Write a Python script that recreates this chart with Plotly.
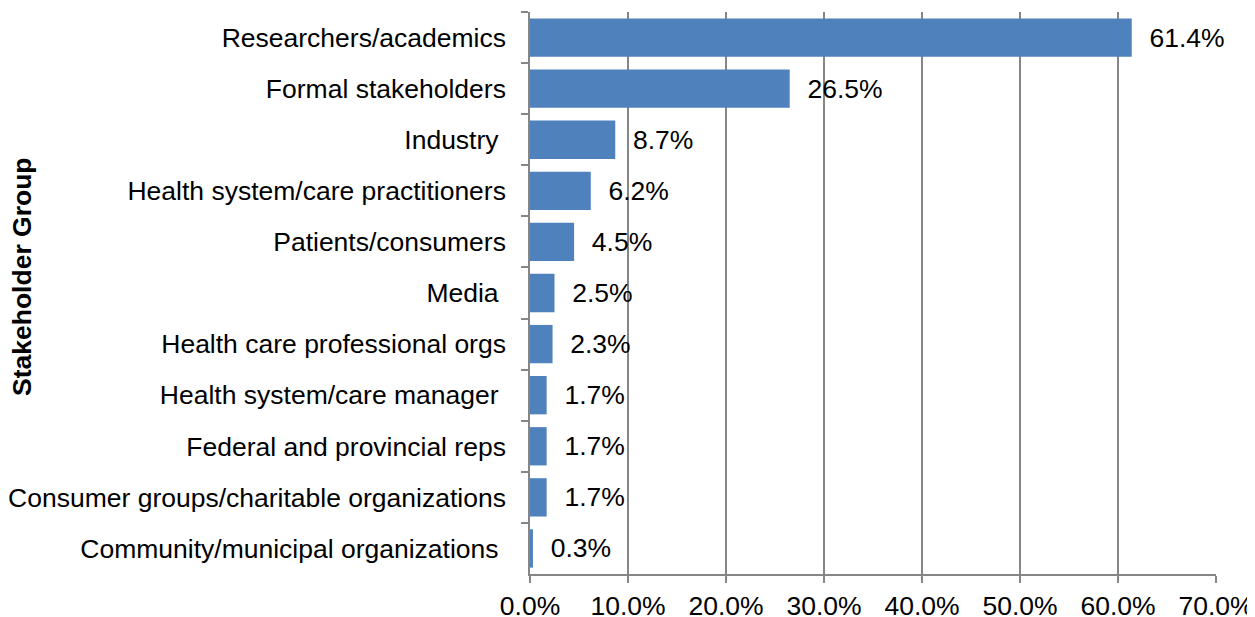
import plotly.graph_objects as go

categories = [
    "Researchers/academics",
    "Formal stakeholders",
    "Industry\u00a0",
    "Health system/care practitioners",
    "Patients/consumers",
    "Media\u00a0",
    "Health care professional orgs",
    "Health system/care manager\u00a0",
    "Federal and provincial reps",
    "Consumer groups/charitable organizations",
    "Community/municipal organizations\u00a0",
]
values = [61.4, 26.5, 8.7, 6.2, 4.5, 2.5, 2.3, 1.7, 1.7, 1.7, 0.3]
x_ticks = [0, 10, 20, 30, 40, 50, 60, 70]
x_tick_labels = ["0.0%", "10.0%", "20.0%", "30.0%", "40.0%", "50.0%", "60.0%", "70.0%"]

FONT = "Liberation Sans, Arial, sans-serif"
GRID = "#868686"
FS = 26.5

fig = go.Figure(
    go.Bar(
        x=values,
        y=categories,
        orientation="h",
        marker=dict(color="#4F81BD", line=dict(width=0)),
        texttemplate="\u00a0\u00a0%{x:.1f}%",
        textposition="outside",
        textfont=dict(family=FONT, size=FS, color="#000000"),
        constraintext="none",
        cliponaxis=False,
    )
)

fig.update_layout(
    width=1247,
    height=609,
    margin=dict(l=522, r=39, t=4, b=43, autoexpand=False),
    paper_bgcolor="white",
    plot_bgcolor="white",
    bargap=0.25,
    showlegend=False,
    font=dict(family=FONT, size=FS, color="#000000"),
    xaxis=dict(
        range=[0, 70],
        tickmode="array",
        tickvals=x_ticks,
        ticktext=x_tick_labels,
        showgrid=True,
        gridcolor=GRID,
        gridwidth=1.5,
        showline=True,
        linecolor=GRID,
        linewidth=1.5,
        ticks="outside",
        ticklen=7,
        tickcolor=GRID,
        tickwidth=1.5,
        zeroline=False,
        automargin=False,
        tickfont=dict(family=FONT, size=FS, color="#000000"),
    ),
    yaxis=dict(
        autorange="reversed",
        showline=True,
        linecolor=GRID,
        linewidth=1.5,
        ticks="outside",
        tickson="boundaries",
        ticklen=7,
        tickcolor=GRID,
        tickwidth=1.5,
        showgrid=False,
        automargin=False,
        ticklabelstandoff=17,
        tickfont=dict(family=FONT, size=FS, color="#000000"),
    ),
    annotations=[
        dict(
            text="<b>Stakeholder Group</b>",
            xref="paper",
            yref="paper",
            x=(14 - 522) / 686,
            y=(566 - 269) / 562,
            xanchor="center",
            yanchor="middle",
            textangle=-90,
            showarrow=False,
            font=dict(family=FONT, size=FS, color="#000000"),
        )
    ],
)

fig.write_html("out.html")
